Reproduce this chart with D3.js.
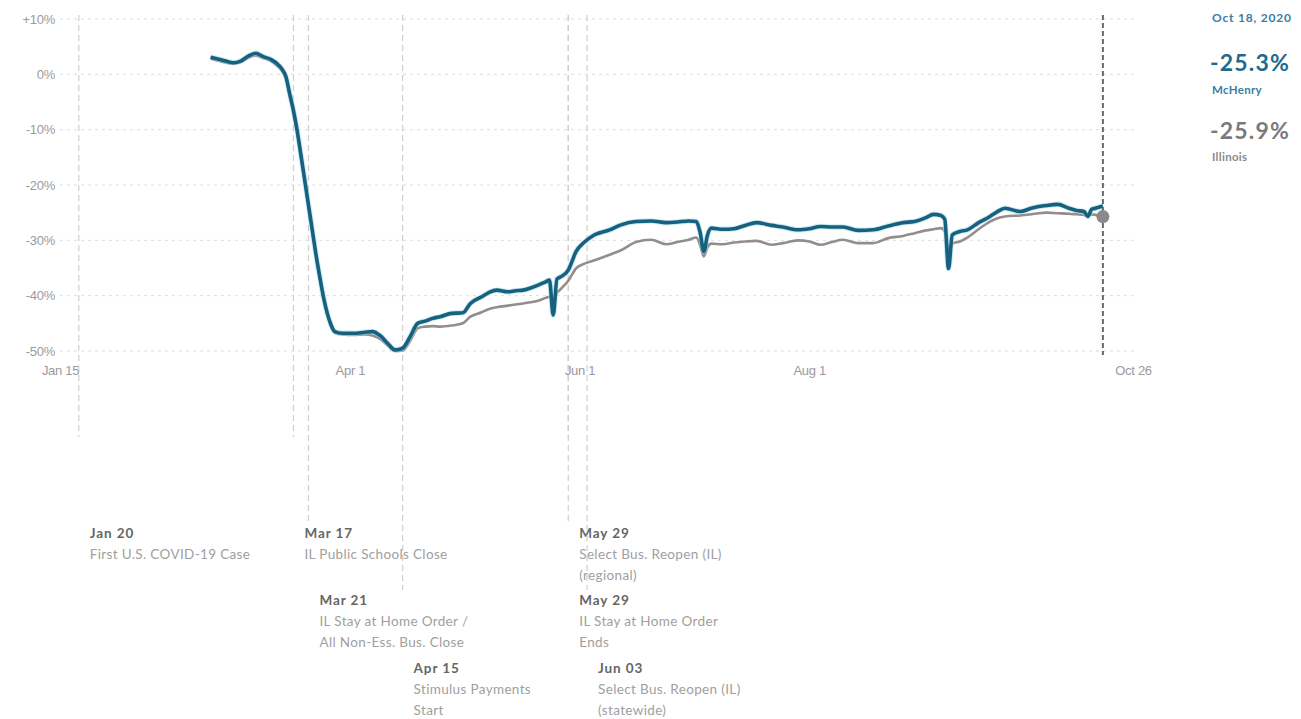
<!DOCTYPE html>
<html><head><meta charset="utf-8">
<script src="https://cdn.jsdelivr.net/npm/d3@7"></script>
<style>body{margin:0;background:#fff}svg{display:block}</style>
</head><body><svg id="c" width="1301" height="719"></svg>
<script>
// ---- data ----
const dates = ["2020-02-24","2020-02-27","2020-03-01","2020-03-03","2020-03-05","2020-03-07","2020-03-09","2020-03-11","2020-03-13","2020-03-14","2020-03-15","2020-03-16","2020-03-17","2020-03-18","2020-03-19","2020-03-20","2020-03-21","2020-03-22","2020-03-23","2020-03-24","2020-03-25","2020-03-26","2020-03-27","2020-03-28","2020-03-30","2020-04-02","2020-04-05","2020-04-07","2020-04-09","2020-04-11","2020-04-13","2020-04-15","2020-04-17","2020-04-19","2020-04-21","2020-04-23","2020-04-25","2020-04-28","2020-05-01","2020-05-03","2020-05-06","2020-05-08","2020-05-10","2020-05-13","2020-05-15","2020-05-17","2020-05-19","2020-05-21","2020-05-23","2020-05-24","2020-05-25","2020-05-26","2020-05-27","2020-05-29","2020-05-30","2020-05-31","2020-06-02","2020-06-05","2020-06-09","2020-06-12","2020-06-16","2020-06-20","2020-06-24","2020-06-27","2020-06-30","2020-07-02","2020-07-03","2020-07-04","2020-07-05","2020-07-06","2020-07-09","2020-07-12","2020-07-15","2020-07-18","2020-07-22","2020-07-25","2020-07-29","2020-08-01","2020-08-04","2020-08-07","2020-08-10","2020-08-14","2020-08-18","2020-08-22","2020-08-26","2020-08-29","2020-09-01","2020-09-03","2020-09-05","2020-09-06","2020-09-07","2020-09-08","2020-09-10","2020-09-12","2020-09-15","2020-09-18","2020-09-20","2020-09-22","2020-09-26","2020-09-29","2020-10-01","2020-10-03","2020-10-06","2020-10-09","2020-10-11","2020-10-13","2020-10-14","2020-10-15","2020-10-16","2020-10-18"];
const mchenry = [3.1,2.6,2.1,2.4,3.3,3.8,3.2,2.7,1.7,0.9,-0.4,-3.5,-6.5,-10.2,-14.6,-19.1,-23.6,-28.1,-32.6,-36.6,-40.3,-43.2,-45.3,-46.5,-46.8,-46.8,-46.6,-46.5,-47.2,-48.6,-49.8,-49.5,-47.4,-45.0,-44.6,-44.1,-43.8,-43.2,-43.1,-41.4,-40.2,-39.4,-39.0,-39.3,-39.1,-39.0,-38.6,-38.1,-37.5,-37.2,-43.5,-37.0,-36.6,-35.4,-33.8,-32.1,-30.5,-29.0,-28.1,-27.2,-26.6,-26.5,-26.8,-26.7,-26.5,-26.6,-28.5,-32.0,-29.0,-27.8,-28.0,-27.9,-27.3,-26.8,-27.3,-27.6,-28.1,-27.9,-27.5,-27.6,-27.6,-28.2,-28.1,-27.4,-26.8,-26.6,-25.9,-25.3,-25.5,-26.2,-35.1,-29.0,-28.4,-28.1,-26.8,-25.7,-24.8,-24.2,-24.8,-24.2,-23.9,-23.7,-23.5,-24.2,-24.6,-24.8,-25.7,-24.4,-24.2,-23.8];
const illinois = [2.8,2.3,1.9,2.2,3.0,3.4,2.9,2.4,1.3,0.6,-0.8,-3.8,-6.9,-10.6,-15.0,-19.5,-24.0,-28.4,-32.8,-36.8,-40.5,-43.4,-45.5,-46.7,-47.0,-47.1,-47.0,-47.2,-47.8,-49.0,-50.0,-49.9,-48.2,-45.9,-45.6,-45.5,-45.6,-45.4,-45.0,-43.8,-43.0,-42.4,-42.1,-41.8,-41.6,-41.4,-41.2,-40.9,-40.4,-40.2,-41.0,-39.5,-38.8,-37.3,-36.2,-35.1,-34.3,-33.6,-32.6,-31.8,-30.3,-29.9,-30.7,-30.3,-29.9,-29.5,-30.8,-32.9,-31.2,-30.6,-30.7,-30.4,-30.2,-30.1,-30.8,-30.5,-30.0,-30.2,-30.8,-30.3,-29.9,-30.5,-30.5,-29.6,-29.2,-28.7,-28.2,-28.0,-27.8,-28.4,-31.6,-30.6,-30.2,-29.5,-28.0,-26.6,-26.0,-25.7,-25.5,-25.3,-25.1,-25.0,-25.1,-25.2,-25.3,-25.4,-25.6,-25.3,-25.4,-25.7];

const xTickDates = ["2020-01-15","2020-04-01","2020-06-01","2020-08-01","2020-10-26"];
const xTickLabels = ["Jan 15","Apr 1","Jun 1","Aug 1","Oct 26"];
const yTicks = [10,0,-10,-20,-30,-40,-50];
const yTickLabels = ["+10%","0%","-10%","-20%","-30%","-40%","-50%"];

const eventDates = ["2020-01-20","2020-03-17","2020-03-21","2020-04-15","2020-05-29","2020-05-29","2020-06-03"];
const eventTitles = ["Jan 20","Mar 17","Mar 21","Apr 15","May 29","May 29","Jun 03"];
const eventTexts = [["First U.S. COVID-19 Case"],["IL Public Schools Close"],["IL Stay at Home Order /","All Non-Ess. Bus. Close"],["Stimulus Payments","Start"],["Select Bus. Reopen (IL)","(regional)"],["IL Stay at Home Order","Ends"],["Select Bus. Reopen (IL)","(statewide)"]];
const eventRows = [0,0,1,2,0,1,2];

const latestDate = "2020-10-18";
const latestLabel = "Oct 18, 2020";
const seriesNames = ["McHenry","Illinois"];
const latestValues = ["-25.3%","-25.9%"];

// ---- chart ----
const parse = d3.timeParse("%Y-%m-%d");
const svg = d3.select("#c");
const x = d3.scaleTime().domain([parse("2020-01-15"), parse("2020-10-26")]).range([60, 1133]);
const y = d3.scaleLinear().domain([-50, 10]).range([351, 19]);

const AX = "Liberation Sans, Arial, sans-serif";
const LATO = "Lato, 'Open Sans', sans-serif";

// horizontal grid
svg.append("g").selectAll("line").data(yTicks).join("line")
  .attr("x1", x.range()[0]).attr("x2", x.range()[1]+2)
  .attr("y1", d => y(d)).attr("y2", d => y(d))
  .attr("stroke", "#dcdcdc").attr("stroke-width", 1).attr("stroke-dasharray", "3,4");

// y axis labels
const yAxis = d3.axisLeft(y).tickValues(yTicks).tickSize(0).tickPadding(0)
  .tickFormat((d,i) => yTickLabels[i]);
const gy = svg.append("g").attr("transform", "translate(55,0)").call(yAxis);
gy.select(".domain").remove();
gy.selectAll("text").attr("fill", "#9a9a9a").style("font-family", AX).style("font-size", "13px")
  .attr("letter-spacing", "-0.3px");

// x axis labels
const xAxis = d3.axisBottom(x).tickValues(xTickDates.map(parse)).tickSize(0).tickPadding(0)
  .tickFormat((d,i) => xTickLabels[i]);
const gx = svg.append("g").attr("transform", "translate(0,366)").call(xAxis);
gx.select(".domain").remove();
gx.selectAll("text").attr("fill", "#9a9a9a").style("font-family", AX).style("font-size", "13px")
  .attr("letter-spacing", "-0.3px");

// event lines + annotations
const rowLineEnd = [437, 522, 590];
const rowLabelY = [538, 605, 673];
const ev = svg.append("g");
eventDates.forEach((d, i) => {
  const ex = x(parse(d));
  const r = eventRows[i];
  ev.append("line").attr("x1", ex).attr("x2", ex).attr("y1", 15).attr("y2", rowLineEnd[r])
    .attr("stroke", "#cfcfcf").attr("stroke-width", 1.2).attr("stroke-dasharray", "6,4");
  const t = ev.append("text").attr("x", ex + 11).attr("y", rowLabelY[r])
    .style("font-family", LATO);
  t.append("tspan").attr("x", ex + 11).attr("font-weight", "bold").attr("font-size", "13.5px")
    .attr("letter-spacing", "0.9px").attr("fill", "#666").text(eventTitles[i]);
  eventTexts[i].forEach((line, j) => {
    t.append("tspan").attr("x", ex + 11).attr("dy", 21).attr("font-size", "13.5px")
      .attr("letter-spacing", "0.35px").attr("fill", "#a0a0a0").text(line);
  });
});

// series lines
const pts = (vals) => dates.map((d, i) => ({ date: parse(d), v: vals[i] }));
const line = d3.line().x(d => x(d.date)).y(d => y(d.v)).curve(d3.curveMonotoneX);
svg.append("path").datum(pts(illinois)).attr("d", line)
  .attr("fill", "none").attr("stroke", "#958c8c").attr("stroke-width", 2.6).attr("stroke-linejoin", "round");
svg.append("path").datum(pts(mchenry)).attr("d", line)
  .attr("fill", "none").attr("stroke", "#9fd8ea").attr("stroke-width", 5.5).attr("stroke-opacity", 0.55).attr("stroke-linejoin", "round");
svg.append("path").datum(pts(mchenry)).attr("d", line)
  .attr("fill", "none").attr("stroke", "#17607e").attr("stroke-width", 3.6).attr("stroke-linejoin", "round");

// latest date line + dot
const lx = x(parse(latestDate));
svg.append("line").attr("x1", lx).attr("x2", lx).attr("y1", 15).attr("y2", 355)
  .attr("stroke", "#5e6a70").attr("stroke-width", 2).attr("stroke-dasharray", "5,3");
svg.append("circle").attr("cx", lx).attr("cy", y(illinois[illinois.length-1])).attr("r", 6.5)
  .attr("fill", "#8a8a8a");

// right legend
const lg = svg.append("g").style("font-family", LATO);
lg.append("text").attr("x", 1212).attr("y", 22).attr("font-size", "12px").attr("font-weight", "bold")
  .attr("letter-spacing", "0.8px").attr("fill", "#3b7ca3").text(latestLabel);
lg.append("text").attr("x", 1210).attr("y", 71).attr("font-size", "23px").attr("font-weight", "bold")
  .attr("fill", "#1f6a8c").attr("letter-spacing", "1.2px").text(latestValues[0]);
lg.append("text").attr("x", 1212).attr("y", 94).attr("font-size", "11.5px").attr("font-weight", "bold")
  .attr("letter-spacing", "0.3px").attr("fill", "#3b7ca3").text(seriesNames[0]);
lg.append("text").attr("x", 1210).attr("y", 139).attr("font-size", "23px").attr("font-weight", "bold")
  .attr("fill", "#7a7a7a").attr("letter-spacing", "1.2px").text(latestValues[1]);
lg.append("text").attr("x", 1212).attr("y", 161).attr("font-size", "11.5px").attr("font-weight", "bold")
  .attr("letter-spacing", "0.3px").attr("fill", "#8a8a8a").text(seriesNames[1]);
</script>
</body></html>
